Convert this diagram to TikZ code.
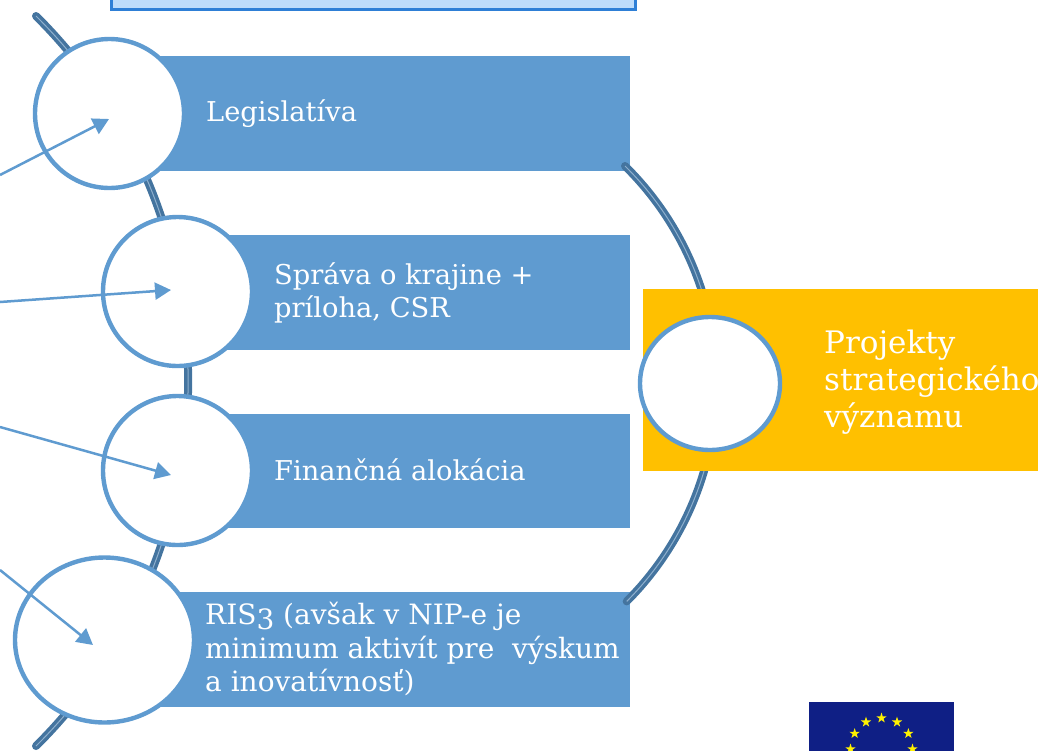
\documentclass[tikz,border=0pt]{standalone}
\usepackage{fontspec}
\setmainfont{DejaVu Serif}
\usetikzlibrary{shapes.geometric,arrows.meta}
\definecolor{acc}{HTML}{5F9BD0}
\definecolor{arcdark}{HTML}{44749F}
\definecolor{arclight}{HTML}{8FB0CE}
\definecolor{gold}{HTML}{FFC000}
\definecolor{topfill}{HTML}{BDDCFB}
\definecolor{topline}{HTML}{2E7FD6}
\definecolor{euflag}{HTML}{0F1F85}
\definecolor{eustar}{HTML}{FFF200}
\tikzset{
 bar/.style={fill=acc,draw=none,rectangle,inner sep=0pt},
 ring/.style={circle,fill=white,draw=acc,line width=4.4pt,inner sep=0pt},
 oval/.style={ellipse,fill=white,draw=acc,line width=4.4pt,inner sep=0pt},
 lab/.style={text=white,anchor=west,inner sep=0pt,align=left,font=\fontsize{27.3}{33.5}\selectfont},
 lablarge/.style={text=white,anchor=west,inner sep=0pt,align=left,font=\fontsize{28}{33.5}\selectfont},
 biglab/.style={text=white,anchor=west,inner sep=0pt,align=left,font=\fontsize{31}{37}\selectfont},
 arrowline/.style={draw=acc,line width=2.5pt,-{Triangle[length=16pt,width=17pt]}},
 arcA/.style={draw=arcdark,line width=8pt,line cap=round},
 arcB/.style={draw=arclight,line width=1pt},
 eu/.style={star,star points=5,star point ratio=2.6,fill=eustar,inner sep=0pt,minimum size=11pt}
}
\newcommand{\leftarc}[1]{\draw[#1] (36,16) arc[start angle=-45.25,end angle=45.25,radius=514];}
\newcommand{\rightarcu}[1]{\draw[#1] (625,166) arc[start angle=-45.46,end angle=-18,radius=306.5];}
\newcommand{\rightarcl}[1]{\draw[#1] (706,464) arc[start angle=15,end angle=45,radius=306.5];}
\begin{document}
\begin{tikzpicture}[x=1pt,y=-1pt]
\useasboundingbox (0,0) rectangle (1038,750);
\clip (0,0) rectangle (1038,750);
% top box
\node[rectangle,fill=topfill,draw=topline,line width=3pt,minimum width=524pt,minimum height=30pt,inner sep=0pt] (topbox) at (373,-6) {};
% bars
\node[bar,minimum width=480pt,minimum height=115pt] (b1) at (390,113.5) {};
\node[bar,minimum width=412pt,minimum height=115pt] (b2) at (424,292.5) {};
\node[bar,minimum width=412pt,minimum height=114pt] (b3) at (424,471) {};
\node[bar,minimum width=480pt,minimum height=115pt] (b4) at (390,649.5) {};
% arcs
\leftarc{arcA}\leftarc{arcB}
\rightarcu{arcA}\rightarcu{arcB}
\rightarcl{arcA}\rightarcl{arcB}
% gold bar
\node[rectangle,fill=gold,inner sep=0pt,minimum width=395pt,minimum height=182pt] (g) at (840.5,380) {};
% rings
\node[ring,minimum size=149pt] (c1) at (109.5,113.5) {};
\node[ring,minimum size=149pt] (c2) at (177.5,291.5) {};
\node[ring,minimum size=149pt] (c3) at (177.5,470.5) {};
\node[oval,minimum width=179pt,minimum height=165pt] (c4) at (104.5,640) {};
\node[oval,minimum width=140pt,minimum height=133pt] (c5) at (710,383.5) {};
% labels
\node[lab] (t1) at (206,114) {Legislatíva};
\node[lab] (t2) at (274,293) {Správa o krajine +\\príloha, CSR};
\node[lab] (t3) at (274,470) {Finančná alokácia};
\node[lablarge] (t4) at (205,649) {RIS\raisebox{-0.18em}{3} (avšak v NIP-e je\\minimum aktivít pre\ \ výskum\\a inovatívnosť)};
\node[biglab] (t5) at (824,382) {Projekty\\strategického\\významu};
% arrows
\coordinate (s1) at (0,175); \coordinate (e1) at (109,119);
\coordinate (s2) at (0,302); \coordinate (e2) at (171,290);
\coordinate (s3) at (0,427); \coordinate (e3) at (171,475);
\coordinate (s4) at (0,570); \coordinate (e4) at (93,645);
\draw[arrowline] (s1) -- (e1);
\draw[arrowline] (s2) -- (e2);
\draw[arrowline] (s3) -- (e3);
\draw[arrowline] (s4) -- (e4);
% flag
\node[rectangle,fill=euflag,inner sep=0pt,minimum width=145pt,minimum height=60pt] (flag) at (881.5,732) {};
\foreach \a in {0,30,...,330}{
 \node[eu] at ({881.5+31*sin(\a)},{749-31*cos(\a)}) {};
}
\end{tikzpicture}
\end{document}
